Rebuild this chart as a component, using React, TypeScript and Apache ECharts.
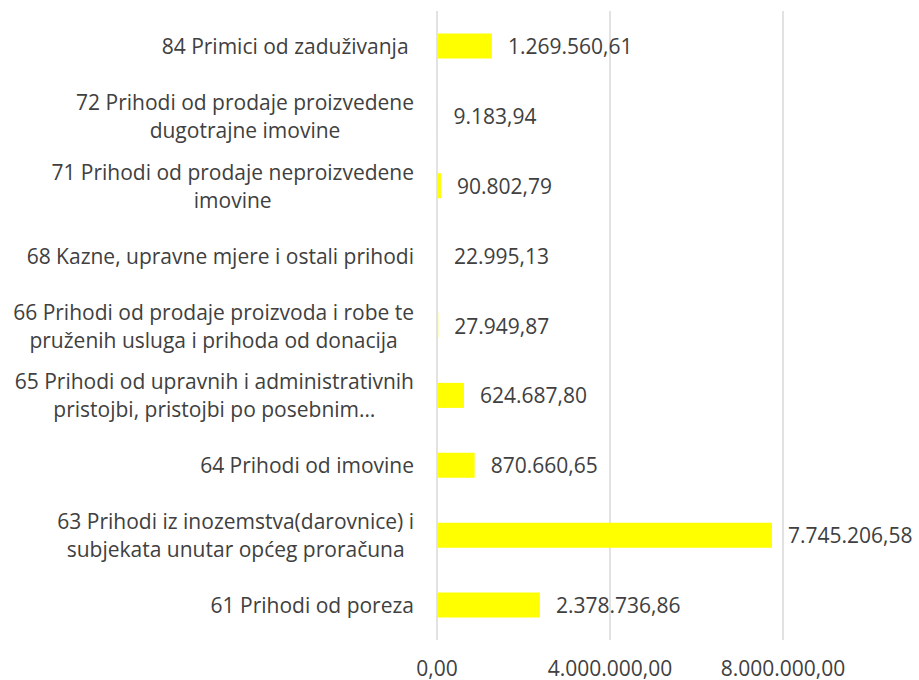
import React, { useEffect, useRef } from "react";
import * as echarts from "echarts";

const categories = [
  "61 Prihodi od poreza",
  "63 Prihodi iz inozemstva(darovnice) i\nsubjekata unutar općeg proračuna",
  "64 Prihodi od imovine",
  "65 Prihodi od upravnih i administrativnih\npristojbi, pristojbi po posebnim…",
  "66 Prihodi od prodaje proizvoda i robe te\npruženih usluga i prihoda od donacija",
  "68 Kazne, upravne mjere i ostali prihodi",
  "71 Prihodi od prodaje neproizvedene\nimovine",
  "72 Prihodi od prodaje proizvedene\ndugotrajne imovine",
  "84 Primici od zaduživanja ",
];
const values = [
  2378736.86, 7745206.58, 870660.65, 624687.8, 27949.87, 22995.13, 90802.79,
  9183.94, 1269560.61,
];
const axisMin = 0;
const axisMax = 8000000;
const axisInterval = 4000000;

function fmtHr(v: number): string {
  const fixed = Math.abs(v).toFixed(2);
  const [intPart, dec] = fixed.split(".");
  const withDots = intPart.replace(/\B(?=(\d{3})+(?!\d))/g, ".");
  return (v < 0 ? "-" : "") + withDots + "," + dec;
}

const FONT = "'Open Sans', 'Liberation Sans', Arial, sans-serif";
const TEXT = "#404040";
const FS = 21;

export default function App() {
  const ref = useRef<HTMLDivElement>(null);
  useEffect(() => {
    if (!ref.current) return;
    const chart = echarts.init(ref.current, undefined, { renderer: "svg" });
    chart.setOption({
      animation: false,
      backgroundColor: "#ffffff",
      grid: { left: 437, right: 136, top: 11, bottom: 40, containLabel: false },
      xAxis: {
        type: "value",
        min: axisMin,
        max: axisMax,
        interval: axisInterval,
        axisLine: { show: false },
        axisTick: { show: false },
        splitLine: { show: true, lineStyle: { color: "#d9d9d9", width: 1.5 } },
        axisLabel: {
          color: TEXT,
          fontFamily: FONT,
          fontSize: FS,
          margin: 17,
          formatter: (v: number) => fmtHr(v),
        },
      },
      yAxis: {
        type: "category",
        data: categories,
        axisLine: { show: false },
        axisTick: { show: false },
        axisLabel: {
          color: TEXT,
          fontFamily: FONT,
          fontSize: FS,
          lineHeight: 28,
          margin: 23,
          align: "right",
          formatter: (v: string) =>
            v
              .split("\n")
              .map((l) => "{c|" + l + "}")
              .join("\n"),
          rich: {
            c: {
              align: "center",
              color: TEXT,
              fontFamily: FONT,
              fontSize: FS,
              lineHeight: 28,
            },
          },
        },
      },
      series: [
        {
          type: "bar",
          data: values,
          barWidth: 25,
          itemStyle: { color: "#ffff00" },
          label: {
            show: true,
            position: "right",
            distance: 16,
            color: TEXT,
            fontFamily: FONT,
            fontSize: FS,
            formatter: (p: any) => fmtHr(p.value),
          },
        },
      ],
    });
    return () => chart.dispose();
  }, []);
  return (
    <div
      ref={ref}
      style={{ position: "absolute", left: 0, top: 0, width: 919, height: 680 }}
    />
  );
}
